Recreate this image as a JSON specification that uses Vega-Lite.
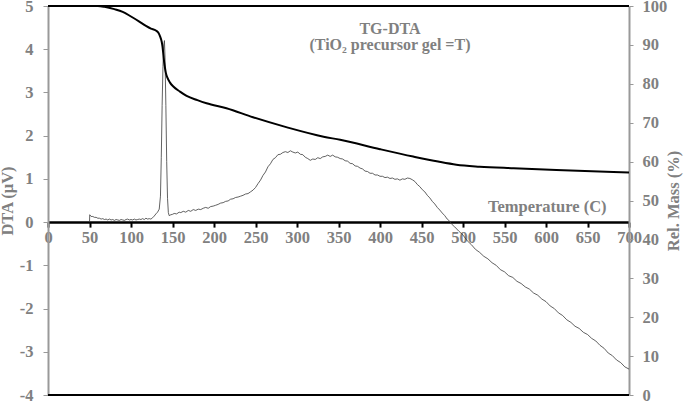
{
  "$schema": "https://vega.github.io/schema/vega-lite/v6.json",
  "width": 581,
  "height": 389,
  "autosize": {"type": "none"},
  "padding": {"left": 48, "top": 6, "right": 56, "bottom": 7},
  "background": "white",
  "config": {
    "view": {"stroke": null},
    "axis": {
      "grid": false,
      "labelFont": "Liberation Serif",
      "labelFontWeight": "bold",
      "labelFontSize": 16.5,
      "labelColor": "#808080",
      "titleFont": "Liberation Serif",
      "titleFontWeight": "bold",
      "titleFontSize": 16.5,
      "titleColor": "#808080"
    }
  },
  "datasets": {
    "dta": [
      {"T": 50, "DTA": 0.0}, {"T": 50.3, "DTA": 0.17}, {"T": 52, "DTA": 0.13}, {"T": 54, "DTA": 0.13}, {"T": 56, "DTA": 0.11},
      {"T": 58, "DTA": 0.11}, {"T": 60, "DTA": 0.09}, {"T": 62, "DTA": 0.09}, {"T": 64, "DTA": 0.07}, {"T": 66, "DTA": 0.08},
      {"T": 68, "DTA": 0.06}, {"T": 70, "DTA": 0.07}, {"T": 72, "DTA": 0.05}, {"T": 74, "DTA": 0.07}, {"T": 76, "DTA": 0.05},
      {"T": 78, "DTA": 0.06}, {"T": 80, "DTA": 0.04}, {"T": 82, "DTA": 0.06}, {"T": 84, "DTA": 0.05}, {"T": 86, "DTA": 0.04},
      {"T": 88, "DTA": 0.06}, {"T": 90, "DTA": 0.05}, {"T": 92, "DTA": 0.04}, {"T": 94, "DTA": 0.06}, {"T": 96, "DTA": 0.07},
      {"T": 98, "DTA": 0.05}, {"T": 100, "DTA": 0.06}, {"T": 102, "DTA": 0.05}, {"T": 104, "DTA": 0.07}, {"T": 106, "DTA": 0.05},
      {"T": 108, "DTA": 0.06}, {"T": 110, "DTA": 0.07}, {"T": 112, "DTA": 0.06}, {"T": 114, "DTA": 0.08}, {"T": 116, "DTA": 0.06},
      {"T": 118, "DTA": 0.09}, {"T": 120, "DTA": 0.07}, {"T": 122, "DTA": 0.08}, {"T": 124, "DTA": 0.07}, {"T": 126, "DTA": 0.1},
      {"T": 128, "DTA": 0.14}, {"T": 130, "DTA": 0.19}, {"T": 132, "DTA": 0.23}, {"T": 134, "DTA": 0.3}, {"T": 135.5, "DTA": 0.6},
      {"T": 136.5, "DTA": 1.5}, {"T": 137.5, "DTA": 2.7}, {"T": 138.5, "DTA": 3.6}, {"T": 139.5, "DTA": 4.1}, {"T": 140.3, "DTA": 4.2},
      {"T": 141, "DTA": 3.8}, {"T": 142, "DTA": 2.7}, {"T": 143, "DTA": 1.4}, {"T": 144, "DTA": 0.55}, {"T": 145, "DTA": 0.22},
      {"T": 146, "DTA": 0.15}, {"T": 148, "DTA": 0.17}, {"T": 150, "DTA": 0.18}, {"T": 152, "DTA": 0.2}, {"T": 155, "DTA": 0.19},
      {"T": 158, "DTA": 0.23}, {"T": 160, "DTA": 0.22}, {"T": 163, "DTA": 0.25}, {"T": 166, "DTA": 0.23}, {"T": 169, "DTA": 0.27},
      {"T": 172, "DTA": 0.25}, {"T": 175, "DTA": 0.29}, {"T": 178, "DTA": 0.27}, {"T": 181, "DTA": 0.3}, {"T": 184, "DTA": 0.29},
      {"T": 187, "DTA": 0.32}, {"T": 190, "DTA": 0.34}, {"T": 193, "DTA": 0.32}, {"T": 196, "DTA": 0.36}, {"T": 199, "DTA": 0.37},
      {"T": 202, "DTA": 0.39}, {"T": 205, "DTA": 0.41}, {"T": 208, "DTA": 0.44}, {"T": 211, "DTA": 0.45}, {"T": 214, "DTA": 0.48},
      {"T": 217, "DTA": 0.49}, {"T": 220, "DTA": 0.53}, {"T": 223, "DTA": 0.54}, {"T": 226, "DTA": 0.57}, {"T": 229, "DTA": 0.58},
      {"T": 232, "DTA": 0.6}, {"T": 235, "DTA": 0.62}, {"T": 238, "DTA": 0.65}, {"T": 241, "DTA": 0.66}, {"T": 244, "DTA": 0.7},
      {"T": 247, "DTA": 0.74}, {"T": 250, "DTA": 0.8}, {"T": 253, "DTA": 0.89}, {"T": 256, "DTA": 0.97}, {"T": 259, "DTA": 1.08},
      {"T": 262, "DTA": 1.16}, {"T": 265, "DTA": 1.28}, {"T": 268, "DTA": 1.35}, {"T": 271, "DTA": 1.45}, {"T": 274, "DTA": 1.49},
      {"T": 277, "DTA": 1.56}, {"T": 280, "DTA": 1.57}, {"T": 283, "DTA": 1.61}, {"T": 286, "DTA": 1.63}, {"T": 289, "DTA": 1.61},
      {"T": 292, "DTA": 1.65}, {"T": 295, "DTA": 1.62}, {"T": 298, "DTA": 1.6}, {"T": 301, "DTA": 1.62}, {"T": 304, "DTA": 1.57},
      {"T": 307, "DTA": 1.56}, {"T": 310, "DTA": 1.5}, {"T": 313, "DTA": 1.47}, {"T": 316, "DTA": 1.43}, {"T": 319, "DTA": 1.46},
      {"T": 322, "DTA": 1.45}, {"T": 325, "DTA": 1.49}, {"T": 328, "DTA": 1.47}, {"T": 331, "DTA": 1.51}, {"T": 334, "DTA": 1.52},
      {"T": 337, "DTA": 1.55}, {"T": 340, "DTA": 1.52}, {"T": 343, "DTA": 1.55}, {"T": 346, "DTA": 1.51}, {"T": 349, "DTA": 1.5},
      {"T": 352, "DTA": 1.47}, {"T": 355, "DTA": 1.46}, {"T": 358, "DTA": 1.42}, {"T": 361, "DTA": 1.41}, {"T": 364, "DTA": 1.36},
      {"T": 367, "DTA": 1.35}, {"T": 370, "DTA": 1.3}, {"T": 373, "DTA": 1.29}, {"T": 376, "DTA": 1.25}, {"T": 379, "DTA": 1.23},
      {"T": 382, "DTA": 1.18}, {"T": 385, "DTA": 1.17}, {"T": 388, "DTA": 1.13}, {"T": 391, "DTA": 1.13}, {"T": 394, "DTA": 1.09},
      {"T": 397, "DTA": 1.09}, {"T": 400, "DTA": 1.06}, {"T": 403, "DTA": 1.06}, {"T": 406, "DTA": 1.03}, {"T": 409, "DTA": 1.04},
      {"T": 412, "DTA": 1.01}, {"T": 415, "DTA": 1.02}, {"T": 418, "DTA": 0.99}, {"T": 421, "DTA": 1.0}, {"T": 424, "DTA": 0.97},
      {"T": 427, "DTA": 1.0}, {"T": 430, "DTA": 0.99}, {"T": 433, "DTA": 1.02}, {"T": 436, "DTA": 1.01}, {"T": 439, "DTA": 0.98},
      {"T": 442, "DTA": 0.94}, {"T": 445, "DTA": 0.87}, {"T": 448, "DTA": 0.82}, {"T": 451, "DTA": 0.75}, {"T": 454, "DTA": 0.7},
      {"T": 457, "DTA": 0.62}, {"T": 460, "DTA": 0.56}, {"T": 463, "DTA": 0.48}, {"T": 466, "DTA": 0.42}, {"T": 469, "DTA": 0.34},
      {"T": 472, "DTA": 0.28}, {"T": 475, "DTA": 0.21}, {"T": 478, "DTA": 0.15}, {"T": 481, "DTA": 0.07}, {"T": 484, "DTA": 0.02},
      {"T": 487, "DTA": -0.06}, {"T": 490, "DTA": -0.11}, {"T": 495, "DTA": -0.21}, {"T": 500, "DTA": -0.3}, {"T": 505, "DTA": -0.43},
      {"T": 510, "DTA": -0.52}, {"T": 515, "DTA": -0.63}, {"T": 520, "DTA": -0.7}, {"T": 525, "DTA": -0.79}, {"T": 530, "DTA": -0.85},
      {"T": 535, "DTA": -0.94}, {"T": 540, "DTA": -1.0}, {"T": 545, "DTA": -1.1}, {"T": 550, "DTA": -1.15}, {"T": 555, "DTA": -1.24},
      {"T": 560, "DTA": -1.28}, {"T": 565, "DTA": -1.37}, {"T": 570, "DTA": -1.42}, {"T": 575, "DTA": -1.5}, {"T": 580, "DTA": -1.55},
      {"T": 585, "DTA": -1.64}, {"T": 590, "DTA": -1.69}, {"T": 595, "DTA": -1.78}, {"T": 600, "DTA": -1.84}, {"T": 605, "DTA": -1.94},
      {"T": 610, "DTA": -2.0}, {"T": 615, "DTA": -2.1}, {"T": 620, "DTA": -2.16}, {"T": 625, "DTA": -2.26}, {"T": 630, "DTA": -2.32},
      {"T": 635, "DTA": -2.41}, {"T": 640, "DTA": -2.46}, {"T": 645, "DTA": -2.55}, {"T": 650, "DTA": -2.6}, {"T": 655, "DTA": -2.69},
      {"T": 660, "DTA": -2.75}, {"T": 665, "DTA": -2.85}, {"T": 670, "DTA": -2.92}, {"T": 675, "DTA": -3.03}, {"T": 680, "DTA": -3.09},
      {"T": 685, "DTA": -3.19}, {"T": 690, "DTA": -3.25}, {"T": 695, "DTA": -3.35}, {"T": 700, "DTA": -3.4}
    ],
    "tg": [
      {"T": 50, "mass": 100}, {"T": 60, "mass": 100}, {"T": 68, "mass": 99.8}, {"T": 80, "mass": 99.2}, {"T": 90, "mass": 98.5},
      {"T": 100, "mass": 97.3}, {"T": 110, "mass": 96.0}, {"T": 118, "mass": 94.9}, {"T": 124, "mass": 94.2}, {"T": 130, "mass": 93.7},
      {"T": 133, "mass": 93.1}, {"T": 135, "mass": 92.2}, {"T": 137, "mass": 90.8}, {"T": 138, "mass": 89.5}, {"T": 139, "mass": 87.5},
      {"T": 140, "mass": 85.5}, {"T": 141, "mass": 84.0}, {"T": 142, "mass": 82.8}, {"T": 144, "mass": 81.5}, {"T": 147, "mass": 80.3},
      {"T": 151, "mass": 79.3}, {"T": 159, "mass": 78.0}, {"T": 167, "mass": 76.9}, {"T": 180, "mass": 75.8}, {"T": 191, "mass": 75.0},
      {"T": 215, "mass": 73.7}, {"T": 247, "mass": 71.4}, {"T": 288, "mass": 68.8}, {"T": 332, "mass": 66.4}, {"T": 352, "mass": 65.6},
      {"T": 400, "mass": 63.2}, {"T": 440, "mass": 61.3}, {"T": 470, "mass": 60.0}, {"T": 492, "mass": 59.2}, {"T": 520, "mass": 58.7},
      {"T": 561, "mass": 58.3}, {"T": 621, "mass": 57.8}, {"T": 700, "mass": 57.2}
    ]
  },
  "layer": [
    {
      "layer": [
        {
          "data": {"name": "dta"},
          "mark": {"type": "line", "color": "#3a3a3a", "strokeWidth": 0.8},
          "encoding": {
            "x": {
              "field": "T", "type": "quantitative",
              "scale": {"domain": [0, 700], "nice": false, "zero": false},
              "axis": {
                "offset": -172.9,
                "values": [0, 50, 100, 150, 200, 250, 300, 350, 400, 450, 500, 550, 600, 650, 700],
                "domainColor": "black", "domainWidth": 2.5,
                "tickColor": "black", "tickWidth": 2, "tickSize": 5,
                "labelPadding": 2, "labelOverlap": false, "labelBound": false, "labelFlush": false,
                "title": null
              }
            },
            "y": {
              "field": "DTA", "type": "quantitative",
              "scale": {"domain": [-4, 5], "nice": false, "zero": false},
              "axis": {
                "values": [-4, -3, -2, -1, 0, 1, 2, 3, 4, 5],
                "labelExpr": "'' + datum.value",
                "domainColor": "#999999", "domainWidth": 2,
                "tickColor": "#999999", "tickSize": 5, "labelPadding": 10,
                "title": "DTA (μV)", "titlePadding": 4
              }
            }
          }
        },
        {
          "data": {"values": [{"v": 5}, {"v": -4}]},
          "mark": {"type": "rule", "color": "black", "strokeWidth": 2},
          "encoding": {"y": {"field": "v", "type": "quantitative"}}
        },
        {
          "data": {"values": [{}]},
          "mark": {"type": "text", "font": "Liberation Serif", "fontWeight": "bold", "fontSize": 16, "color": "#808080"},
          "encoding": {"x": {"datum": 412}, "y": {"datum": 4.47}, "text": {"value": "TG-DTA"}}
        },
        {
          "data": {"values": [{}]},
          "mark": {"type": "text", "font": "Liberation Serif", "fontWeight": "bold", "fontSize": 16, "color": "#808080"},
          "encoding": {"x": {"datum": 412}, "y": {"datum": 4.1}, "text": {"value": "(TiO₂ precursor gel =T)"}}
        },
        {
          "data": {"values": [{}]},
          "mark": {"type": "text", "align": "right", "font": "Liberation Serif", "fontWeight": "bold", "fontSize": 16.5, "color": "#808080"},
          "encoding": {"x": {"datum": 673}, "y": {"datum": 0.34}, "text": {"value": "Temperature (C)"}}
        }
      ]
    },
    {
      "data": {"name": "tg"},
      "mark": {"type": "line", "color": "black", "strokeWidth": 2, "interpolate": "monotone"},
      "encoding": {
        "x": {"field": "T", "type": "quantitative"},
        "y": {
          "field": "mass", "type": "quantitative",
          "scale": {"domain": [0, 100], "nice": false},
          "axis": {
            "orient": "right",
            "values": [0, 10, 20, 30, 40, 50, 60, 70, 80, 90, 100],
            "domainColor": "#999999", "domainWidth": 2,
            "tickColor": "#999999", "tickSize": 4, "labelPadding": 9,
            "title": "Rel. Mass (%)", "titleAngle": 270, "titlePadding": 15
          }
        }
      }
    }
  ],
  "resolve": {"scale": {"y": "independent"}}
}
